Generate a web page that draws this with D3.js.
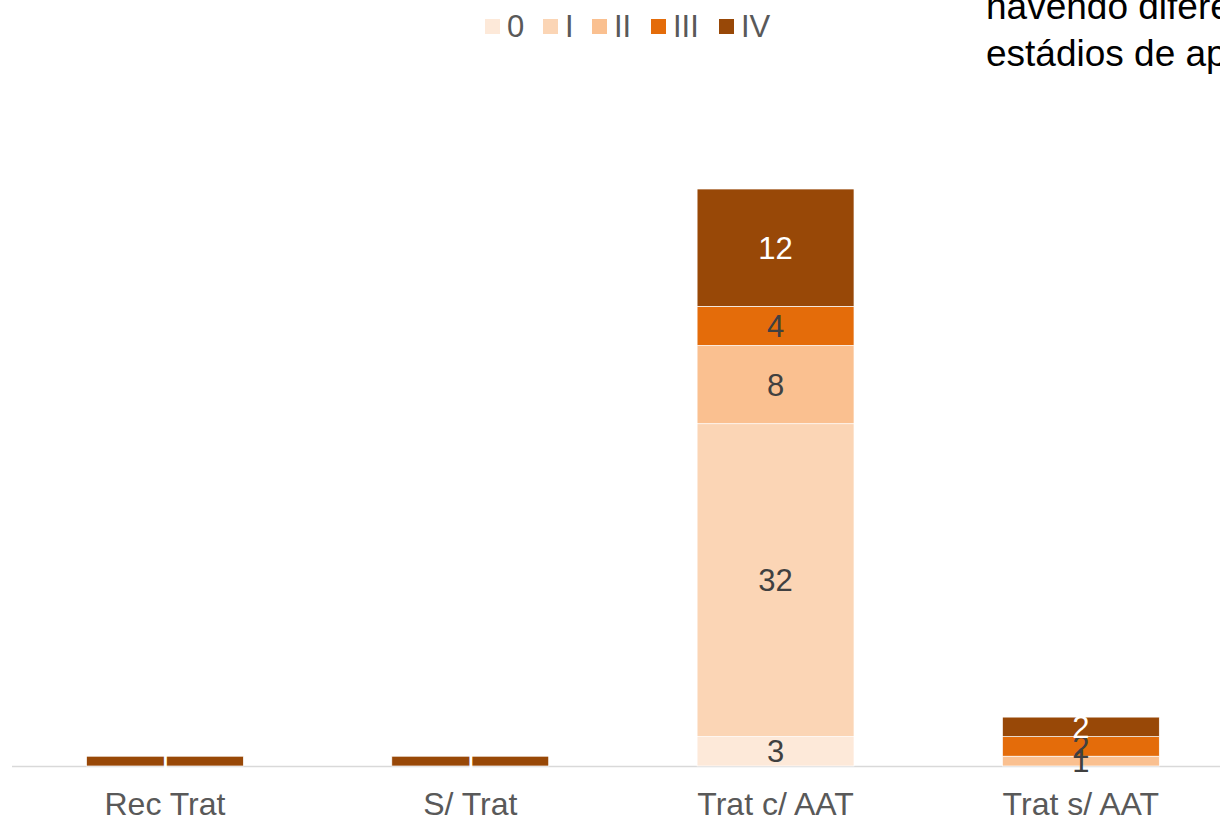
<!DOCTYPE html>
<html><head><meta charset="utf-8">
<script src="https://cdn.jsdelivr.net/npm/d3@7"></script>
<style>body{margin:0;background:#fff;overflow:hidden}svg{display:block}</style>
</head><body><svg id="c" width="1220" height="817"></svg>
<script>
const categories = ["Rec Trat", "S/ Trat", "Trat c/ AAT", "Trat s/ AAT"];
const seriesNames = ["0", "I", "II", "III", "IV"];
const s0 = [0, 0, 3, 0];
const s1 = [0, 0, 32, 0];
const s2 = [0, 0, 8, 1];
const s3 = [0, 0, 4, 2];
const s4 = [1, 1, 12, 2];
const colors = ["#FDE9D9", "#FBD5B5", "#FAC090", "#E46C0A", "#984807"];
const labelColors = ["#404040", "#404040", "#404040", "#404040", "#ffffff"];
const noteLines = ["havendo diferenças entre os", "estádios de apresentação"];

const seriesVals = [s0, s1, s2, s3, s4];
const rows = categories.map((c, i) => {
  const r = {cat: c};
  seriesNames.forEach((s, k) => r[s] = seriesVals[k][i]);
  return r;
});
const stack = d3.stack().keys(seriesNames)(rows);

const svg = d3.select("#c");
const x = d3.scaleBand().domain(categories).range([12.3, 1233.5]).paddingInner(0.486).paddingOuter(0.243);
const y = d3.scaleLinear().domain([0, 59]).range([766, 189]);
const FONT = "Liberation Sans, Arial, sans-serif";

svg.append("line").attr("x1", 12).attr("x2", 1220).attr("y1", 766.5).attr("y2", 766.5)
  .attr("stroke", "#D9D9D9").attr("stroke-width", 1.5);

const g = svg.append("g");
stack.forEach((layer, k) => {
  g.selectAll(null).data(layer.filter(d => d[1] - d[0] > 0)).enter().append("rect")
    .attr("x", d => x(d.data.cat))
    .attr("width", x.bandwidth())
    .attr("y", d => y(d[1]))
    .attr("height", d => y(d[0]) - y(d[1]))
    .attr("fill", colors[k])
    .attr("stroke", "#fff").attr("stroke-width", 0.7);
});
stack.forEach((layer, k) => {
  g.selectAll(null).data(layer.filter(d => d[1] - d[0] > 0)).enter().append("text")
    .attr("x", d => x(d.data.cat) + x.bandwidth() / 2)
    .attr("y", d => (y(d[0]) + y(d[1])) / 2)
    .attr("dy", "0.36em")
    .attr("text-anchor", "middle")
    .attr("font-family", FONT)
    .attr("font-size", 31)
    .attr("fill", labelColors[k])
    .text(d => d[1] - d[0]);
});

svg.append("g").selectAll("text").data(categories).enter().append("text")
  .attr("x", d => x(d) + x.bandwidth() / 2)
  .attr("y", 815)
  .attr("text-anchor", "middle")
  .attr("font-family", FONT)
  .attr("font-size", 32).attr("fill", "#595959")
  .text(d => d);

const legX = [485, 543, 592, 651, 719];
const leg = svg.append("g");
seriesNames.forEach((s, k) => {
  leg.append("rect").attr("x", legX[k]).attr("y", 19).attr("width", 15).attr("height", 15).attr("fill", colors[k]);
  leg.append("text").attr("x", legX[k] + 22).attr("y", 37)
    .attr("font-family", FONT)
    .attr("font-size", 31).attr("fill", "#595959").text(s);
});

svg.append("g").selectAll("text").data(noteLines).enter().append("text")
  .attr("x", 986).attr("y", (d, i) => 19 + i * 47)
  .attr("font-family", FONT)
  .attr("font-size", 37).attr("fill", "#000")
  .text(d => d);
</script></body></html>
